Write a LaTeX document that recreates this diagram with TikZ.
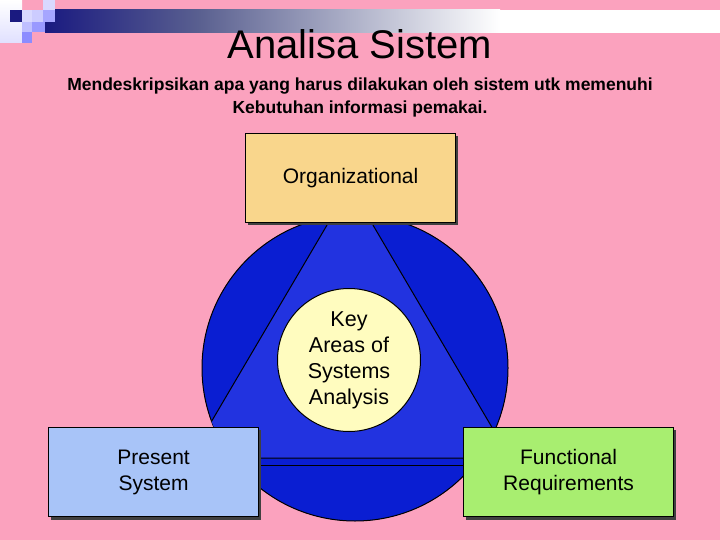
\documentclass[tikz,border=0pt]{standalone}
\usepackage{fontspec}
\setmainfont{Liberation Sans}
\begin{document}
\begin{tikzpicture}[x=1pt,y=-1pt,
  box/.style={draw=black,line width=1.2pt,minimum width=210pt,minimum height=89pt,anchor=north west,font=\fontsize{21}{26}\selectfont,align=center},
  shadow/.style={fill=black!75,draw=none}]
\definecolor{bg}{HTML}{FBA2BE}
\definecolor{navy}{HTML}{1A1A80}
\definecolor{mid}{HTML}{5A6090}
\definecolor{circ}{HTML}{0A1ED2}
\definecolor{tri}{HTML}{2233E0}
\definecolor{orgc}{HTML}{F9D68C}
\definecolor{presc}{HTML}{A8C4F8}
\definecolor{funcc}{HTML}{A8EE70}
\fill[bg] (0,0) rectangle (720,540);
\useasboundingbox (0,0) rectangle (720,540);
% decoration
\shade[left color=navy,right color=mid] (45,10) rectangle (200,33);
\shade[left color=mid,right color=white] (199.5,10) rectangle (500,33);
\fill[white] (499.5,10) rectangle (720,33);
\shade[top color=white,bottom color=white!70!blue!40] (0,0) rectangle (22,43);
\fill[navy] (10,10) rectangle (22,22);
\fill[blue!15] (22,10) rectangle (32,22);
\fill[blue!35] (43,10) rectangle (55,22);
\fill[blue!20] (32,10) rectangle (43,22);
\fill[blue!25] (22,22) rectangle (32,32);
\fill[blue!40] (32,22) rectangle (45,32);
\fill[blue!45] (22,32) rectangle (32,43);
\fill[blue!15] (43,0) rectangle (55,10);
% title
\node (title) at (360,44) {\fontsize{40}{44}\selectfont Analisa Sistem};
\node (sub) at (360,97) [align=center,font=\bfseries\fontsize{17.5}{23}\selectfont] {Mendeskripsikan apa yang harus dilakukan oleh sistem utk memenuhi\\Kebutuhan informasi pemakai.};
% circle & triangle
\node (big) [circle,fill=circ,draw=black,line width=1pt,minimum size=306pt,inner sep=0] at (355,368) {};
\coordinate (ta) at (350,186);
\coordinate (tl) at (190,458);
\coordinate (tr) at (510,458);
\begin{scope}
\clip (355,368) circle (153);
\fill[tri,draw=black,line width=1pt] (ta) -- (tl) -- (tr) -- cycle;
\draw[black,line width=1pt] (200,465) -- (510,465);
\end{scope}
\node (key) [circle,fill=yellow!25,draw=black,line width=1pt,minimum size=143pt,inner sep=0,align=center,font=\fontsize{21.5}{26}\selectfont] at (349,360) {Key\\Areas of\\Systems\\Analysis};
% boxes
\fill[shadow] (248,136) rectangle (458,225);
\node (org) [box,fill=orgc] at (245,133) {Organizational};
\fill[shadow] (51,430) rectangle (261,520);
\node (pres) [box,fill=presc] at (48,427) {Present\\System};
\fill[shadow] (466,430) rectangle (676,520);
\node (func) [box,fill=funcc] at (463,427) {Functional\\Requirements};
\end{tikzpicture}
\end{document}
